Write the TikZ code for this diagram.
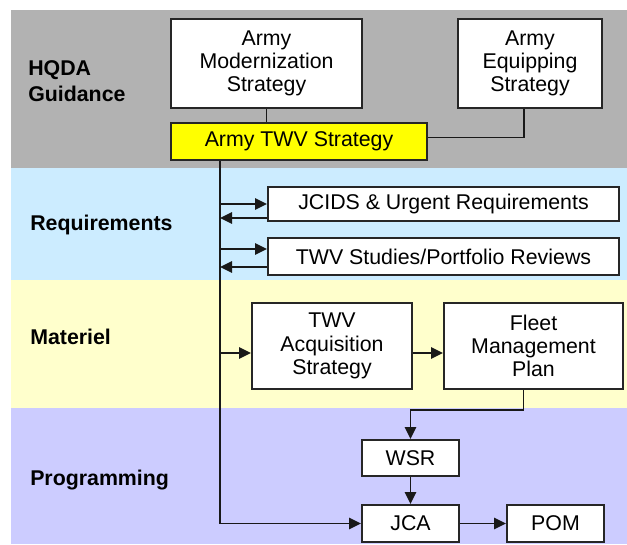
\documentclass[tikz,border=0pt]{standalone}
\usepackage{fontspec}
\setmainfont{Liberation Sans}
\usetikzlibrary{arrows.meta,calc}
\definecolor{hqdagray}{RGB}{178,178,178}
\definecolor{reqblue}{RGB}{204,236,255}
\definecolor{matyellow}{RGB}{255,255,204}
\definecolor{progpurple}{RGB}{204,204,255}
\definecolor{twvyellow}{RGB}{255,255,0}
\begin{document}
\begin{tikzpicture}[x=0.75pt,y=0.75pt,yscale=-1,xscale=1,
    box/.style={draw=black!85,line width=1.5pt,fill=white,align=center,inner sep=0pt,
        font=\fontsize{16}{17.5}\selectfont},
    band/.style={anchor=west,align=left,inner sep=0pt,font=\fontsize{16}{19}\selectfont\bfseries},
    link/.style={draw=black!90,line width=1.4pt},
    arr/.style={link,-{Triangle[length=9pt,width=8.5pt]}}]
    \useasboundingbox (0,0) rectangle (627,544);
    %Shape: Rectangle [bands]
    \path [fill=hqdagray] (11,10) rectangle (627,168);
    \path [fill=reqblue] (11,168) rectangle (627,280);
    \path [fill=matyellow] (11,280) rectangle (627,408);
    \path [fill=progpurple] (11,408) rectangle (627,544);
    % Text Node
    \node (hqda) [band] at (28,81) {HQDA\\Guidance};
    % Text Node
    \node (req) [band] at (30,225) {Requirements};
    % Text Node
    \node (mat) [band] at (30,337) {Materiel};
    % Text Node
    \node (prog) [band] at (30,480) {Programming};
    %Shape: Rectangle [boxes]
    \node (mod) [box,minimum width=143.25pt,minimum height=66.75pt] at (266.5,63.5) {Army\\Modernization\\Strategy};
    \node (equip) [box,minimum width=108pt,minimum height=66.75pt] at (530,63.5) {Army\\Equipping\\Strategy};
    \node (twv) [box,fill=twvyellow,minimum width=192pt,minimum height=27.75pt] at (299,141.5) {Army TWV Strategy};
    \node (jcids) [box,minimum width=263.25pt,minimum height=25.5pt] at (443.5,204) {JCIDS \& Urgent Requirements};
    \node (studies) [box,minimum width=263.25pt,minimum height=27.75pt] at (443.5,256.5) {TWV Studies/Portfolio Reviews};
    \node (acq) [box,minimum width=120pt,minimum height=64.5pt] at (332,346) {TWV\\Acquisition\\Strategy};
    \node (fleet) [box,minimum width=134.25pt,minimum height=64.5pt] at (533.5,346) {Fleet\\Management\\Plan};
    \node (wsr) [box,minimum width=72.75pt,minimum height=27pt] at (410.5,458) {WSR};
    \node (jca) [box,minimum width=72.75pt,minimum height=27.75pt] at (410.5,523.5) {JCA};
    \node (pom) [box,minimum width=72.75pt,minimum height=27.75pt] at (555.5,523.5) {POM};
    %Straight Lines [connectors]
    \coordinate (trunk) at ($(twv.south west)+(50,0)$);
    \draw [link] (mod.south) -- (mod.south |- twv.north);
    \draw [link] ($(twv.east)+(0,-4)$) -| ($(equip.south)+(-6,0)$);
    \draw [arr] (trunk) |- (jca.west);
    \draw [arr] (trunk |- jcids.west) -- (jcids.west);
    \draw [arr] ($(jcids.west)+(0,14)$) -- ++(-47,0);
    \draw [arr] ($(studies.west)+(-47,-7.5)$) -- ++(47,0);
    \draw [arr] ($(studies.west)+(0,10.5)$) -- ++(-47,0);
    \draw [arr] ($(acq.west)+(-31,7)$) -- ++(31,0);
    \draw [arr] ($(acq.east)+(0,7)$) -- ($(fleet.west)+(0,7)$);
    \draw [arr] ($(fleet.south)+(-10,0)$) -- ++(0,20) -| (wsr.north);
    \draw [arr] (wsr) -- (jca);
    \draw [arr] (jca) -- (pom);
\end{tikzpicture}
\end{document}
